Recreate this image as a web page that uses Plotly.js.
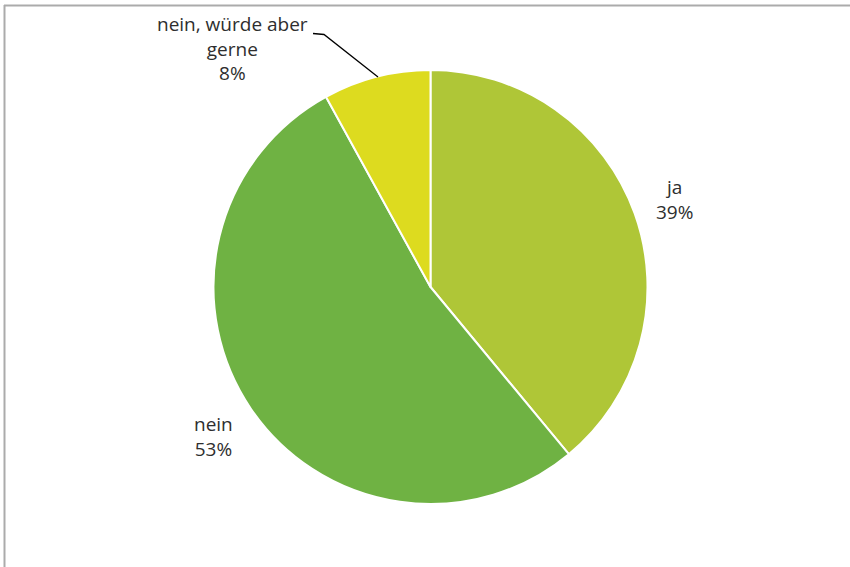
<!DOCTYPE html>
<html>
<head>
<meta charset="utf-8">
<script src="https://cdn.plot.ly/plotly-3.0.1.min.js"></script>
<style>html,body{margin:0;padding:0;background:#fff;}#chart{width:850px;height:567px;}</style>
</head>
<body>
<div id="chart"></div>
<script>
const categories = ["ja", "nein", "nein, würde aber gerne"];
const labelTexts = ["ja", "nein", "nein, würde aber<br>gerne"];
const values = [39, 53, 8];
const colors = ["#AFC637", "#6FB243", "#DDDB1F"];

const W = 850, H = 567;
const px = x => x / W;
const py = y => 1 - y / H;

const total = values.reduce((a, b) => a + b, 0);
const pct = values.map(v => Math.round(v / total * 100) + "%");

// label anchor positions (pixels) for each slice label block
const labelPos = [[674, 199], [213, 436], [232, 49]];

const trace = {
  type: "pie",
  labels: categories,
  values: values,
  sort: false,
  direction: "clockwise",
  rotation: 0,
  textinfo: "none",
  hoverinfo: "label+percent",
  marker: { colors: colors, line: { color: "#ffffff", width: 2 } },
  domain: { x: [px(430.5 - 217), px(430.5 + 217)], y: [py(504), py(70)] },
  showlegend: false
};

const annotations = categories.map((c, i) => ({
  xref: "paper", yref: "paper",
  x: px(labelPos[i][0]), y: py(labelPos[i][1]),
  xanchor: "center", yanchor: "middle",
  text: labelTexts[i] + "<br>" + pct[i],
  showarrow: false,
  font: { family: "Open Sans, sans-serif", size: 19, color: "#2E2E2E" }
}));

const shapes = [
  { type: "line", xref: "paper", yref: "paper", x0: px(4), x1: 1, y0: py(5.5), y1: py(5.5),
    line: { color: "#ABABAB", width: 2 } },
  { type: "line", xref: "paper", yref: "paper", x0: px(4.5), x1: px(4.5), y0: 0, y1: py(5),
    line: { color: "#ABABAB", width: 2 } },
  { type: "path", xref: "paper", yref: "paper",
    path: "M " + px(313) + " " + py(33.5) + " L " + px(324) + " " + py(34.5) + " L " + px(378) + " " + py(77),
    line: { color: "#000000", width: 1.3 } }
];

const layout = {
  width: W, height: H,
  margin: { l: 0, r: 0, t: 0, b: 0 },
  paper_bgcolor: "#ffffff",
  annotations: annotations,
  shapes: shapes,
  showlegend: false
};

Plotly.newPlot("chart", [trace], layout, { displayModeBar: false, staticPlot: true });
</script>
</body>
</html>
